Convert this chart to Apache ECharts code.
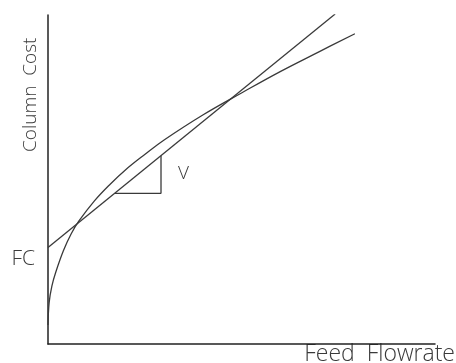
<!DOCTYPE html>
<html>
<head>
<meta charset="utf-8">
<script src="https://cdn.jsdelivr.net/npm/echarts@6/dist/echarts.min.js"></script>
<style>
  html, body { margin: 0; padding: 0; background: #fff; }
  #chart { width: 456px; height: 363px; }
</style>
</head>
<body>
<div id="chart"></div>
<script>
// Column cost versus feed flowrate: concave cost curve and its linear fit.
// Axis units are arbitrary (0-100 on both axes).
const costCurveX = [0, 0.3, 1, 2, 4, 6, 8, 12, 16, 20, 25, 30, 40, 50, 60, 70, 79.3];
const costCurveY = [5.8, 12.6, 17.6, 21.8, 28.4, 33.5, 37.4, 43.5, 48.5, 52.9, 57.6, 62.0, 69.6, 76.3, 82.8, 88.8, 94.3];

// Linear cost model: fixed cost FC at zero flow, slope V
const linearX = [0, 74.2];
const linearY = [29.3, 100.3];
const fixedCost = 29.3;

// Slope triangle under the linear model
const slopeTriX = [17.3, 29.2, 29.2];
const slopeTriY = [45.8, 45.8, 57.2];

const axisTitles = { x: 'Feed  Flowrate', y: 'Column  Cost' };
const fixedCostLabel = 'FC';
const slopeLabel = 'V';

const pairs = (xs, ys) => xs.map((x, i) => [x, ys[i]]);

const chart = echarts.init(document.getElementById('chart'), null, { renderer: 'canvas' });

const lineStyle = { color: '#3a3a3a', width: 1.3 };
const textFont = '"Open Sans", "DejaVu Sans", sans-serif';
const textColor = '#3a3a3a';

chart.setOption({
  backgroundColor: '#ffffff',
  animation: false,
  grid: { left: 48, right: 21, top: 15, bottom: 19 },
  xAxis: {
    type: 'value', min: 0, max: 100,
    axisLine: { show: true, onZero: false, lineStyle: { color: '#222', width: 1.5 } },
    axisTick: { show: false }, axisLabel: { show: false }, splitLine: { show: false }
  },
  yAxis: {
    type: 'value', min: 0, max: 100,
    axisLine: { show: true, onZero: false, lineStyle: { color: '#222', width: 1.5 } },
    axisTick: { show: false }, axisLabel: { show: false }, splitLine: { show: false }
  },
  series: [
    {
      name: 'cost', type: 'line', data: pairs(costCurveX, costCurveY),
      smooth: 0.4, showSymbol: false, lineStyle: lineStyle
    },
    {
      name: 'linear', type: 'line', data: pairs(linearX, linearY),
      showSymbol: false, lineStyle: lineStyle
    },
    {
      name: 'slope', type: 'line', data: pairs(slopeTriX, slopeTriY),
      showSymbol: false, lineStyle: lineStyle
    }
  ]
});

// Place the text annotations from the data coordinates
const fcPos = chart.convertToPixel({ gridIndex: 0 }, [0, fixedCost]);
const vPos = chart.convertToPixel({ gridIndex: 0 }, [slopeTriX[2], (slopeTriY[1] + slopeTriY[2]) / 2]);

chart.setOption({
  graphic: [
    {
      type: 'text', x: 455, y: 354,
      style: { text: axisTitles.x, font: '300 23px ' + textFont, fill: textColor, textAlign: 'right', textVerticalAlign: 'middle' }
    },
    {
      type: 'text', x: 31, y: 152, rotation: Math.PI / 2,
      style: { text: axisTitles.y, font: '300 19px ' + textFont, fill: textColor, textAlign: 'left', textVerticalAlign: 'middle' }
    },
    {
      type: 'text', x: fcPos[0] - 13, y: fcPos[1] + 11,
      style: { text: fixedCostLabel, font: '300 21px ' + textFont, fill: textColor, textAlign: 'right', textVerticalAlign: 'middle' }
    },
    {
      type: 'text', x: vPos[0] + 17, y: vPos[1] - 1,
      style: { text: slopeLabel, font: '300 19px ' + textFont, fill: textColor, textAlign: 'left', textVerticalAlign: 'middle' }
    }
  ]
});
</script>
</body>
</html>
